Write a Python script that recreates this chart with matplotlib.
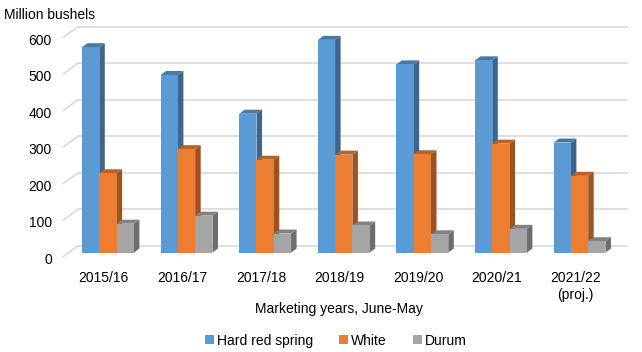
import matplotlib
matplotlib.use("Agg")
import matplotlib.pyplot as plt
from matplotlib.patches import Polygon, Patch
import matplotlib.colors as mcolors
import numpy as np

# ---- data ----
categories = ["2015/16", "2016/17", "2017/18", "2018/19", "2019/20", "2020/21", "2021/22\n(proj.)"]
hard_red_spring = [562, 486, 380, 582, 515, 526, 301]
white = [217, 283, 254, 268, 269, 298, 210]
durum = [79, 101, 52, 74, 50, 65, 31]
series_names = ["Hard red spring", "White", "Durum"]
series_values = [hard_red_spring, white, durum]
series_colors = ["#5b9bd5", "#ed7d31", "#a5a5a5"]
yticks = [0, 100, 200, 300, 400, 500, 600]

plt.rcParams['font.family'] = ['Liberation Sans', 'DejaVu Sans']

W, H = 642, 352
fig = plt.figure(figsize=(W / 100, H / 100), dpi=100)

# axes placement (pixel geometry of the reference)
left_px, right_px, bottom_px, top_px = 63, 628, 258.3, 18
ax = fig.add_axes([left_px / W, 1 - bottom_px / H, (right_px - left_px) / W, (bottom_px - top_px) / H])

px_per_x = 78.6          # pixels per category
px_per_y = 0.3677        # pixels per value unit
x0 = -(103.7 - left_px) / px_per_x
ax.set_xlim(x0, x0 + (right_px - left_px) / px_per_x)
ylo = -(bottom_px - 254) / px_per_y
ax.set_ylim(ylo, ylo + (bottom_px - top_px) / px_per_y)

def dx(px):
    return px / px_per_x

def dy(px):
    return px / px_per_y

# back wall gridlines and left-wall depth lines
wall_dx, wall_dy = dx(15), dy(10.7)
front_off = dy(4.3)   # floor front lies below bar front plane
for v in yticks:
    yb = v + dy(6.7)
    ax.plot([x0 + wall_dx, ax.get_xlim()[1]], [yb, yb], color="#d9d9d9", lw=1.2, zorder=1, solid_capstyle="butt")
    ax.plot([x0, x0 + wall_dx], [v - front_off, yb], color="#d9d9d9", lw=1.2, zorder=1)

# 3D-looking bars
width = 0.22
offsets = [-0.166, 0.054, 0.274]
bdx, bdy = dx(5.5), dy(4)

def shade(c, f):
    r, g, b = mcolors.to_rgb(c)
    return (r * f, g * f, b * f)

z = 2
for i in range(len(categories)):
    for s in range(3):
        v = series_values[s][i]
        c = series_colors[s]
        xl = i + offsets[s] - width / 2
        xr = xl + width
        side = Polygon([(xr, 0), (xr + bdx, bdy), (xr + bdx, v + bdy), (xr, v)],
                       closed=True, facecolor=shade(c, 0.66), edgecolor="none", zorder=z)
        top = Polygon([(xl, v), (xl + bdx, v + bdy), (xr + bdx, v + bdy), (xr, v)],
                      closed=True, facecolor=shade(c, 0.78), edgecolor="none", zorder=z)
        ax.add_patch(side)
        ax.add_patch(top)
        ax.bar(xl, v, width=width, align="edge", color=c, edgecolor="none", zorder=z + 0.5)
        z += 1

# axes styling
for sp in ax.spines.values():
    sp.set_visible(False)
ax.set_xticks(range(len(categories)), categories, fontsize=10)
ax.set_yticks([v - dy(5.8) for v in yticks], [str(v) for v in yticks], fontsize=10)
ax.tick_params(axis="both", length=0, colors="#000000")
ax.tick_params(axis="x", pad=9)
ax.tick_params(axis="y", pad=8)
for lbl in ax.get_xticklabels():
    lbl.set_linespacing(1.3)

ax.set_xlabel("Marketing years, June-May", fontsize=10)
ax.xaxis.set_label_coords((339 - left_px) / (right_px - left_px), -(308.5 - bottom_px) / (bottom_px - top_px))
ax.xaxis.label.set_va("center")

fig.text(3.5 / W, 1 - 15 / H, "Million bushels", fontsize=10, ha="left", va="center")

handles = [Patch(facecolor=c, edgecolor="none") for c in series_colors]
fig.legend(handles, series_names, loc="center", bbox_to_anchor=(336 / W, 1 - 340.7 / H), ncol=3,
           frameon=False, fontsize=10, handlelength=0.65, handleheight=0.65, handletextpad=0.2,
           columnspacing=1.9, borderpad=0, borderaxespad=0)

fig.savefig("out.png", dpi=100)
